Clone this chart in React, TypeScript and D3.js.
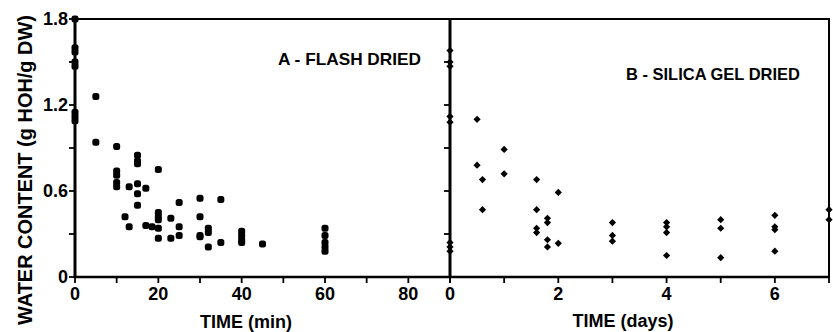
import React from "react";
import * as d3 from "d3";

const flashTimes = [0,0,0,0,0,0,0,0, 5,5, 10,10,10,10,10, 12, 13,13, 15,15,15,15,15,15, 17,17, 18.5, 20,20,20,20,20,20, 23,23, 25,25,25, 30,30,30,30, 32,32,32, 35,35, 40,40,40,40, 45, 60,60,60,60,60];
const flashWater = [1.8,1.6,1.57,1.5,1.47,1.15,1.12,1.09, 1.26,0.94, 0.91,0.74,0.71,0.66,0.63, 0.42, 0.63,0.35, 0.85,0.81,0.79,0.65,0.58,0.5, 0.62,0.36, 0.35, 0.75,0.45,0.42,0.4,0.34,0.27, 0.41,0.27, 0.52,0.35,0.29, 0.55,0.42,0.29,0.28, 0.34,0.31,0.21, 0.54,0.24, 0.32,0.29,0.26,0.24, 0.23, 0.34,0.29,0.24,0.21,0.18];

const silicaDays = [0,0,0,0,0,0,0,0, 0.5,0.5, 0.6,0.6, 1,1, 1.6,1.6,1.6,1.6, 1.8,1.8,1.8,1.8, 2,2, 3,3,3, 4,4,4,4, 5,5,5, 6,6,6,6, 7,7];
const silicaWater = [1.58,1.5,1.47,1.12,1.08,0.24,0.21,0.18, 1.1,0.78, 0.68,0.47, 0.89,0.72, 0.68,0.47,0.34,0.31, 0.41,0.38,0.26,0.21, 0.59,0.235, 0.38,0.29,0.25, 0.38,0.35,0.31,0.15, 0.4,0.34,0.135, 0.43,0.35,0.33,0.18, 0.47,0.4];

const yMajorTicks = [0, 0.6, 1.2, 1.8];
const yMinorTicks = [0.3, 0.9, 1.5];
const minTicks = [0, 10, 20, 30, 40, 50, 60, 70, 80, 90];
const minLabels = [0, 20, 40, 60, 80];
const dayTicks = [0, 1, 2, 3, 4, 5, 6, 7];
const dayLabels = [0, 2, 4, 6];

const W = 833, H = 332;
const FONT = "'Liberation Sans', Arial, Helvetica, sans-serif";

export default function App() {
  const y = d3.scaleLinear().domain([0, 1.8]).range([277, 19]);
  const xA = d3.scaleLinear().domain([0, 90]).range([75, 450]);
  const xB = d3.scaleLinear().domain([0, 7]).range([450, 829]);
  const y0 = y(0), yTop = y(1.8);
  const tickLen = 6;
  const yTicks = [...yMajorTicks, ...yMinorTicks];
  const diamond = d3.symbol().type(d3.symbolSquare).size(26)();

  return (
    <svg width={W} height={H} style={{ position: "absolute", left: 0, top: 0, background: "#fff" }}
      fontFamily={FONT}>
      <rect x={0} y={0} width={W} height={H} fill="#fff" />
      {/* frame */}
      <line x1={xA(0)} x2={xB(7)} y1={yTop} y2={yTop} stroke="#000" strokeWidth={2} />
      <line x1={xA(0) - 1} x2={xB(7) + 1} y1={y0} y2={y0} stroke="#000" strokeWidth={2.5} />
      <line x1={xA(0)} x2={xA(0)} y1={yTop - 1} y2={y0 + 1} stroke="#000" strokeWidth={3} />
      <line x1={xB(0)} x2={xB(0)} y1={yTop - 1} y2={y0 + 1} stroke="#000" strokeWidth={3} />
      <line x1={xB(7)} x2={xB(7)} y1={yTop - 1} y2={y0 + 1} stroke="#000" strokeWidth={2} />

      {/* y ticks */}
      {yTicks.map((t) => (
        <g key={"ya" + t}>
          <line x1={xA(0) - tickLen} x2={xA(0)} y1={y(t)} y2={y(t)} stroke="#000" strokeWidth={1.8} />
          <line x1={xB(0) - tickLen} x2={xB(0)} y1={y(t)} y2={y(t)} stroke="#000" strokeWidth={1.8} />
        </g>
      ))}
      {yMajorTicks.map((t) => (
        <text key={"yl" + t} x={68} y={y(t)} dy="0.36em" textAnchor="end" fontSize={18} fontWeight="bold">
          {t === 0 ? "0" : d3.format(".1f")(t)}
        </text>
      ))}

      {/* x ticks A */}
      {minTicks.map((t) => (
        <line key={"xa" + t} x1={xA(t)} x2={xA(t)} y1={y0} y2={y0 + tickLen} stroke="#000" strokeWidth={1.8} />
      ))}
      {minLabels.map((t) => (
        <text key={"xal" + t} x={xA(t)} y={300} textAnchor="middle" fontSize={18} fontWeight="bold">{t}</text>
      ))}
      {/* x ticks B */}
      {dayTicks.map((t) => (
        <line key={"xb" + t} x1={xB(t)} x2={xB(t)} y1={y0} y2={y0 + tickLen} stroke="#000" strokeWidth={1.8} />
      ))}
      {dayLabels.map((t) => (
        <text key={"xbl" + t} x={xB(t)} y={300} textAnchor="middle" fontSize={18} fontWeight="bold">{t}</text>
      ))}

      {/* axis titles */}
      <text transform={`translate(32,170) rotate(-90)`} textAnchor="middle" fontSize={20} fontWeight="bold"
        textLength={310} lengthAdjust="spacingAndGlyphs">WATER CONTENT (g HOH/g DW)</text>
      <text x={246} y={328} textAnchor="middle" fontSize={18} fontWeight="bold">TIME (min)</text>
      <text x={623} y={327} textAnchor="middle" fontSize={18} fontWeight="bold">TIME (days)</text>

      {/* panel labels */}
      <text x={278} y={65} fontSize={17} fontWeight="bold" textLength={143} lengthAdjust="spacingAndGlyphs">A - FLASH DRIED</text>
      <text x={626} y={80} fontSize={17} fontWeight="bold" textLength={174} lengthAdjust="spacingAndGlyphs">B - SILICA GEL DRIED</text>

      {/* data A */}
      {flashTimes.map((t, i) => (
        <rect key={"pa" + i} x={xA(t) - 3.5} y={y(flashWater[i]) - 3.5} width={7} height={7} rx={2.5} fill="#000" />
      ))}
      {/* data B */}
      {silicaDays.map((t, i) => (
        <path key={"pb" + i} d={diamond || ""} transform={`translate(${xB(t)},${y(silicaWater[i])}) rotate(45)`} fill="#000" />
      ))}
    </svg>
  );
}
